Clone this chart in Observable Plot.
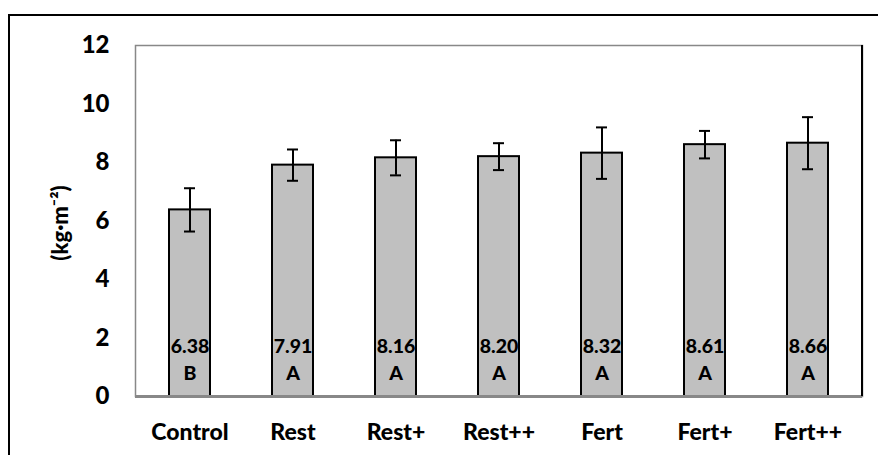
<!DOCTYPE html>
<html>
<head>
<meta charset="utf-8">
<script src="https://cdn.jsdelivr.net/npm/d3@7"></script>
<script src="https://cdn.jsdelivr.net/npm/@observablehq/plot@0.6"></script>
<style>
  html, body { margin: 0; padding: 0; background: #fff; }
  #wrap { position: relative; width: 878px; height: 455px; overflow: hidden; }
  #outer { position: absolute; left: 8px; top: 14px; width: 900px; height: 500px;
           border-left: 2.5px solid #000; border-top: 2.5px solid #000; box-sizing: border-box; }
  #chart { position: absolute; left: 0; top: 0; }
</style>
</head>
<body>
<div id="wrap"><div id="outer"></div><div id="chart"></div></div>
<script>
const categories = ["Control", "Rest", "Rest+", "Rest++", "Fert", "Fert+", "Fert++"];
const means = [6.38, 7.91, 8.16, 8.20, 8.32, 8.61, 8.66];
const errors = [0.74, 0.535, 0.60, 0.46, 0.88, 0.47, 0.89];
const letters = ["B", "A", "A", "A", "A", "A", "A"];
const yTicks = [0, 2, 4, 6, 8, 10, 12];

const data = categories.map((c, i) => ({
  cat: c, mean: means[i], lo: means[i] - errors[i], hi: means[i] + errors[i],
  label: means[i].toFixed(2) + "\n" + letters[i]
}));

const font = "Lato, 'Open Sans', sans-serif";

const rightBorder = (index, scales, values, dims) => {
  const x = dims.width - dims.marginRight;
  const g = d3.create("svg:line")
    .attr("x1", x).attr("x2", x)
    .attr("y1", dims.marginTop).attr("y2", dims.height - dims.marginBottom)
    .attr("stroke", "#000").attr("stroke-width", 2);
  return g.node();
};

const chart = Plot.plot({
  width: 878,
  height: 455,
  marginLeft: 135,
  marginRight: 16,
  marginTop: 45,
  marginBottom: 59,
  style: { fontFamily: font, fontWeight: "bold", fontSize: "23px", color: "#000", background: "transparent" },
  x: { domain: categories, paddingInner: 0.6, paddingOuter: 0.3, label: null },
  y: { domain: [0, 12], label: null },
  marks: [
    Plot.frame({ stroke: "#888", strokeWidth: 1.5 }),
    Plot.barY(data, { x: "cat", y: "mean", fill: "#c0c0c0", stroke: "#000", strokeWidth: 2 }),
    Plot.ruleY([0], { stroke: "#888", strokeWidth: 3 }),
    rightBorder,
    Plot.ruleX(data, { x: "cat", y1: "lo", y2: "hi", stroke: "#000", strokeWidth: 2 }),
    Plot.tickY(data, { x: "cat", y: "lo", stroke: "#000", strokeWidth: 2, insetLeft: 15, insetRight: 15 }),
    Plot.tickY(data, { x: "cat", y: "hi", stroke: "#000", strokeWidth: 2, insetLeft: 15, insetRight: 15 }),
    Plot.text(data, { x: "cat", text: "label", frameAnchor: "bottom", lineAnchor: "bottom",
      dy: -16.7, lineHeight: 1.38, fontSize: 19.5, fontWeight: 900, fill: "#000" }),
    Plot.axisY({ ticks: yTicks, tickSize: 0, tickPadding: 26, fontSize: 24, fontWeight: 900, label: null }),
    Plot.axisX({ tickSize: 0, tickPadding: 27, fontSize: 23, fontWeight: 900, label: null }),
    Plot.text(["(kg·m⁻²)"], { frameAnchor: "left", dx: -75, dy: 2, rotate: -90,
      textAnchor: "middle", lineAnchor: "middle", fontSize: 22, fontWeight: 900, fill: "#000" })
  ]
});
document.getElementById("chart").appendChild(chart);
</script>
</body>
</html>
